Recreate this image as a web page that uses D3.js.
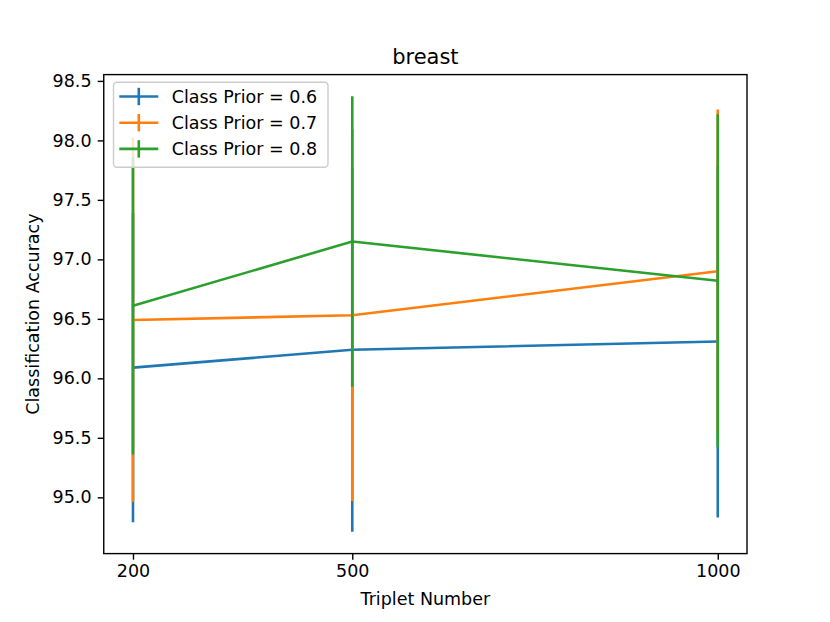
<!DOCTYPE html>
<html><head><meta charset="utf-8">
<script src="https://cdn.jsdelivr.net/npm/d3@7"></script>
<style>body{margin:0;background:#fff;} text{font-family:"DejaVu Sans",sans-serif;}</style>
</head><body><svg id="c" width="830" height="622"></svg>
<script>
const triplets = [200, 500, 1000];
const seriesNames = ["Class Prior = 0.6", "Class Prior = 0.7", "Class Prior = 0.8"];
const colors = ["#1f77b4", "#ff7f0e", "#2ca02c"];
const acc06 = [96.09, 96.24, 96.31];
const err06 = [1.30, 1.53, 1.48];
const acc07 = [96.49, 96.53, 96.90];
const err07 = [1.53, 1.56, 1.36];
const acc08 = [96.61, 97.15, 96.82];
const err08 = [1.25, 1.22, 1.40];
const yTicks = [95.0, 95.5, 96.0, 96.5, 97.0, 97.5, 98.0, 98.5];
const title = "breast", xLabel = "Triplet Number", yLabel = "Classification Accuracy";

const series = [
  {name: seriesNames[0], color: colors[0], acc: acc06, err: err06},
  {name: seriesNames[1], color: colors[1], acc: acc07, err: err07},
  {name: seriesNames[2], color: colors[2], acc: acc08, err: err08}
];

const L = 103.75, R = 747, T = 74.6, B = 553.6;
const FS = 17.5, LW = 2.6;
const svg = d3.select("#c");
const x = d3.scaleLinear().domain([160, 1040]).range([L, R]);
const y = d3.scaleLinear().domain([94.527, 98.553]).range([B, T]);

const g = svg.append("g");
series.forEach(s => {
  g.selectAll(null).data(triplets).enter().append("line")
    .attr("x1", d => x(d)).attr("x2", d => x(d))
    .attr("y1", (d, i) => y(s.acc[i] - s.err[i]))
    .attr("y2", (d, i) => y(s.acc[i] + s.err[i]))
    .attr("stroke", s.color).attr("stroke-width", LW);
  g.append("path")
    .datum(triplets.map((t, i) => [t, s.acc[i]]))
    .attr("d", d3.line().x(d => x(d[0])).y(d => y(d[1])))
    .attr("fill", "none").attr("stroke", s.color).attr("stroke-width", LW)
    .attr("stroke-linejoin", "round");
});

const xAxis = d3.axisBottom(x).tickValues(triplets).tickSize(6.1).tickPadding(5).tickFormat(d3.format("d"));
const yAxis = d3.axisLeft(y).tickValues(yTicks).tickSize(6.1).tickPadding(6.1).tickFormat(d3.format(".1f"));
const xa = svg.append("g").attr("transform", `translate(0,${B})`).call(xAxis);
const ya = svg.append("g").attr("transform", `translate(${L},0)`).call(yAxis);
[xa, ya].forEach(a => {
  a.select(".domain").remove();
  a.selectAll("line").attr("stroke", "#000").attr("stroke-width", 1.4);
  a.selectAll("text").attr("font-size", FS).attr("fill", "#000").attr("font-family", "DejaVu Sans");
});
svg.append("rect").attr("x", L).attr("y", T).attr("width", R - L).attr("height", B - T)
  .attr("fill", "none").attr("stroke", "#000").attr("stroke-width", 1.4);

svg.append("text").attr("x", (L + R) / 2).attr("y", 63.5).attr("text-anchor", "middle")
  .attr("font-size", 21).text(title);
svg.append("text").attr("x", (L + R) / 2).attr("y", 605).attr("text-anchor", "middle")
  .attr("font-size", FS).text(xLabel);
svg.append("text").attr("transform", `translate(38.5,${(T + B) / 2}) rotate(-90)`).attr("text-anchor", "middle")
  .attr("font-size", FS).text(yLabel);

const lg = svg.append("g");
lg.append("rect").attr("x", 113.5).attr("y", 82.3).attr("width", 214.5).attr("height", 85)
  .attr("rx", 3.5).attr("fill", "#fff").attr("fill-opacity", 0.8).attr("stroke", "#cccccc").attr("stroke-width", 1.4);
series.forEach((s, i) => {
  const cy = 96.5 + i * 26.2;
  lg.append("line").attr("x1", 119.3).attr("x2", 158.3).attr("y1", cy).attr("y2", cy)
    .attr("stroke", s.color).attr("stroke-width", LW);
  lg.append("line").attr("x1", 138.8).attr("x2", 138.8).attr("y1", cy - 8.7).attr("y2", cy + 8.7)
    .attr("stroke", s.color).attr("stroke-width", LW);
  lg.append("text").attr("x", 171.7).attr("y", cy + 6.3).attr("font-size", FS).text(s.name);
});
</script></body></html>
